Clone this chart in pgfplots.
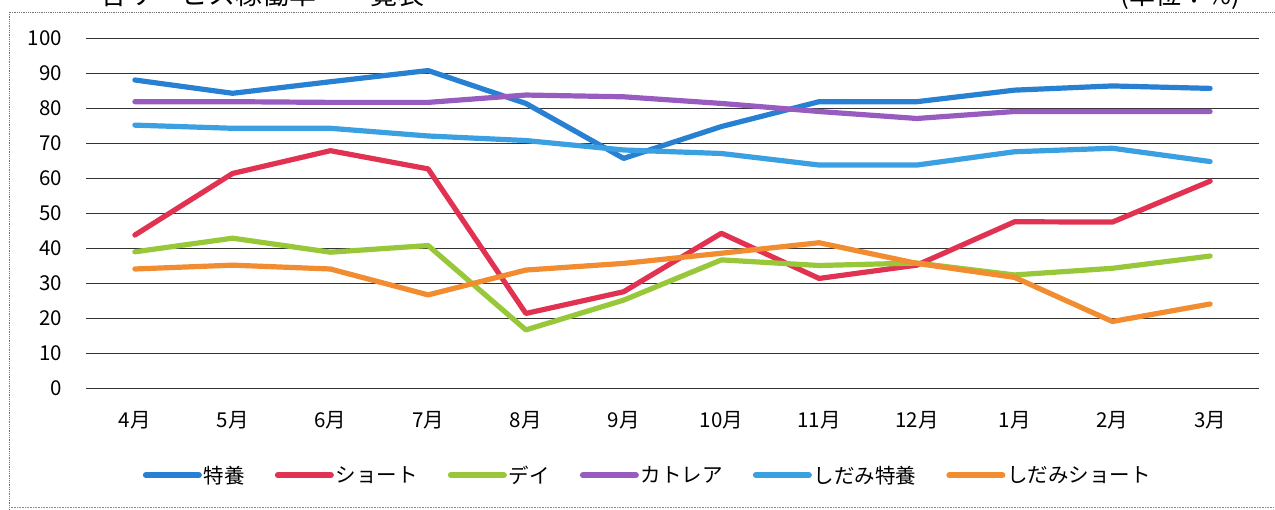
\documentclass[border=0pt]{standalone}
\usepackage{fontspec}
\setmainfont{Noto Sans CJK JP}
\usepackage{pgfplots}
\pgfplotsset{compat=1.18}
\definecolor{cTokuyo}{RGB}{40,128,210}
\definecolor{cShort}{RGB}{226,50,82}
\definecolor{cDay}{RGB}{152,200,58}
\definecolor{cKatorea}{RGB}{152,92,192}
\definecolor{cShidamiT}{RGB}{58,160,226}
\definecolor{cShidamiS}{RGB}{242,140,48}
\begin{document}
\begin{tikzpicture}[x=1pt,y=1pt]
\useasboundingbox (0,0) rectangle (1275,510);
\clip (0,0) rectangle (1275,510);
\draw[black!55, densely dotted, line width=0.8pt] (9,-5) -- (9,498) -- (1285,498);
\draw[black!45, densely dotted, line width=0.6pt] (9,3) -- (1285,3);
\node[anchor=base west, inner sep=0pt, font=\fontsize{27}{30}\selectfont] at (100,505.5) {各サービス稼働率　一覧表};
\node[anchor=base east, inner sep=0pt, font=\fontsize{26}{30}\selectfont] at (1240,505.5) {(単位：\%)};
\begin{axis}[
  at={(86pt,122pt)}, anchor=south west,
  scale only axis, width=1173pt, height=350pt,
  xmin=-0.5, xmax=11.5, ymin=0, ymax=100,
  ytick={0,10,...,100},
  xtick={0,...,11},
  xticklabels={4月,5月,6月,7月,8月,9月,10月,11月,12月,1月,2月,3月},
  axis line style={draw=none},
  major tick length=0pt,
  ymajorgrids,
  grid style={black!80, line width=0.7pt},
  /pgf/number format/assume math mode=true,
  tick label style={font=\fontsize{20.5}{24}\selectfont, inner sep=0pt},
  yticklabel style={anchor=east, xshift=-24pt},
  xticklabel style={anchor=north, yshift=-23pt},
  clip=false,
  legend columns=-1,
  legend style={at={(0.479,-0.249)}, anchor=center, draw=none, fill=none,
    font=\fontsize{20.5}{24}\selectfont,
    nodes={inner xsep=2pt, inner ysep=0pt},
    /tikz/every even column/.append style={column sep=28pt}},
  legend image code/.code={\draw[#1, line width=6pt, line cap=round] (0pt,0pt) -- (53pt,0pt);},
  every axis plot/.append style={line width=5.2pt, line join=round, line cap=round, mark=none},
]
\addplot[cTokuyo] coordinates {(0,88.0)(1,84.2)(2,87.5)(3,90.7)(4,81.3)(5,65.6)(6,74.7)(7,81.8)(8,81.8)(9,85.1)(10,86.3)(11,85.6)};
\addlegendentry{特養}
\addplot[cShort] coordinates {(0,43.7)(1,61.3)(2,67.8)(3,62.6)(4,21.3)(5,27.5)(6,44.2)(7,31.3)(8,35.1)(9,47.5)(10,47.4)(11,59.1)};
\addlegendentry{ショート}
\addplot[cDay] coordinates {(0,38.9)(1,42.8)(2,38.8)(3,40.7)(4,16.6)(5,25.1)(6,36.6)(7,35.0)(8,35.7)(9,32.3)(10,34.2)(11,37.7)};
\addlegendentry{デイ}
\addplot[cKatorea] coordinates {(0,81.8)(1,81.8)(2,81.6)(3,81.6)(4,83.7)(5,83.2)(6,81.3)(7,79.0)(8,77.0)(9,79.0)(10,79.0)(11,79.0)};
\addlegendentry{カトレア}
\addplot[cShidamiT] coordinates {(0,75.1)(1,74.2)(2,74.2)(3,72.0)(4,70.7)(5,68.0)(6,67.0)(7,63.7)(8,63.7)(9,67.5)(10,68.5)(11,64.7)};
\addlegendentry{しだみ特養}
\addplot[cShidamiS] coordinates {(0,34.0)(1,35.1)(2,34.0)(3,26.6)(4,33.7)(5,35.6)(6,38.5)(7,41.5)(8,35.6)(9,31.6)(10,19.0)(11,24.0)};
\addlegendentry{しだみショート}
\end{axis}
\end{tikzpicture}
\end{document}
